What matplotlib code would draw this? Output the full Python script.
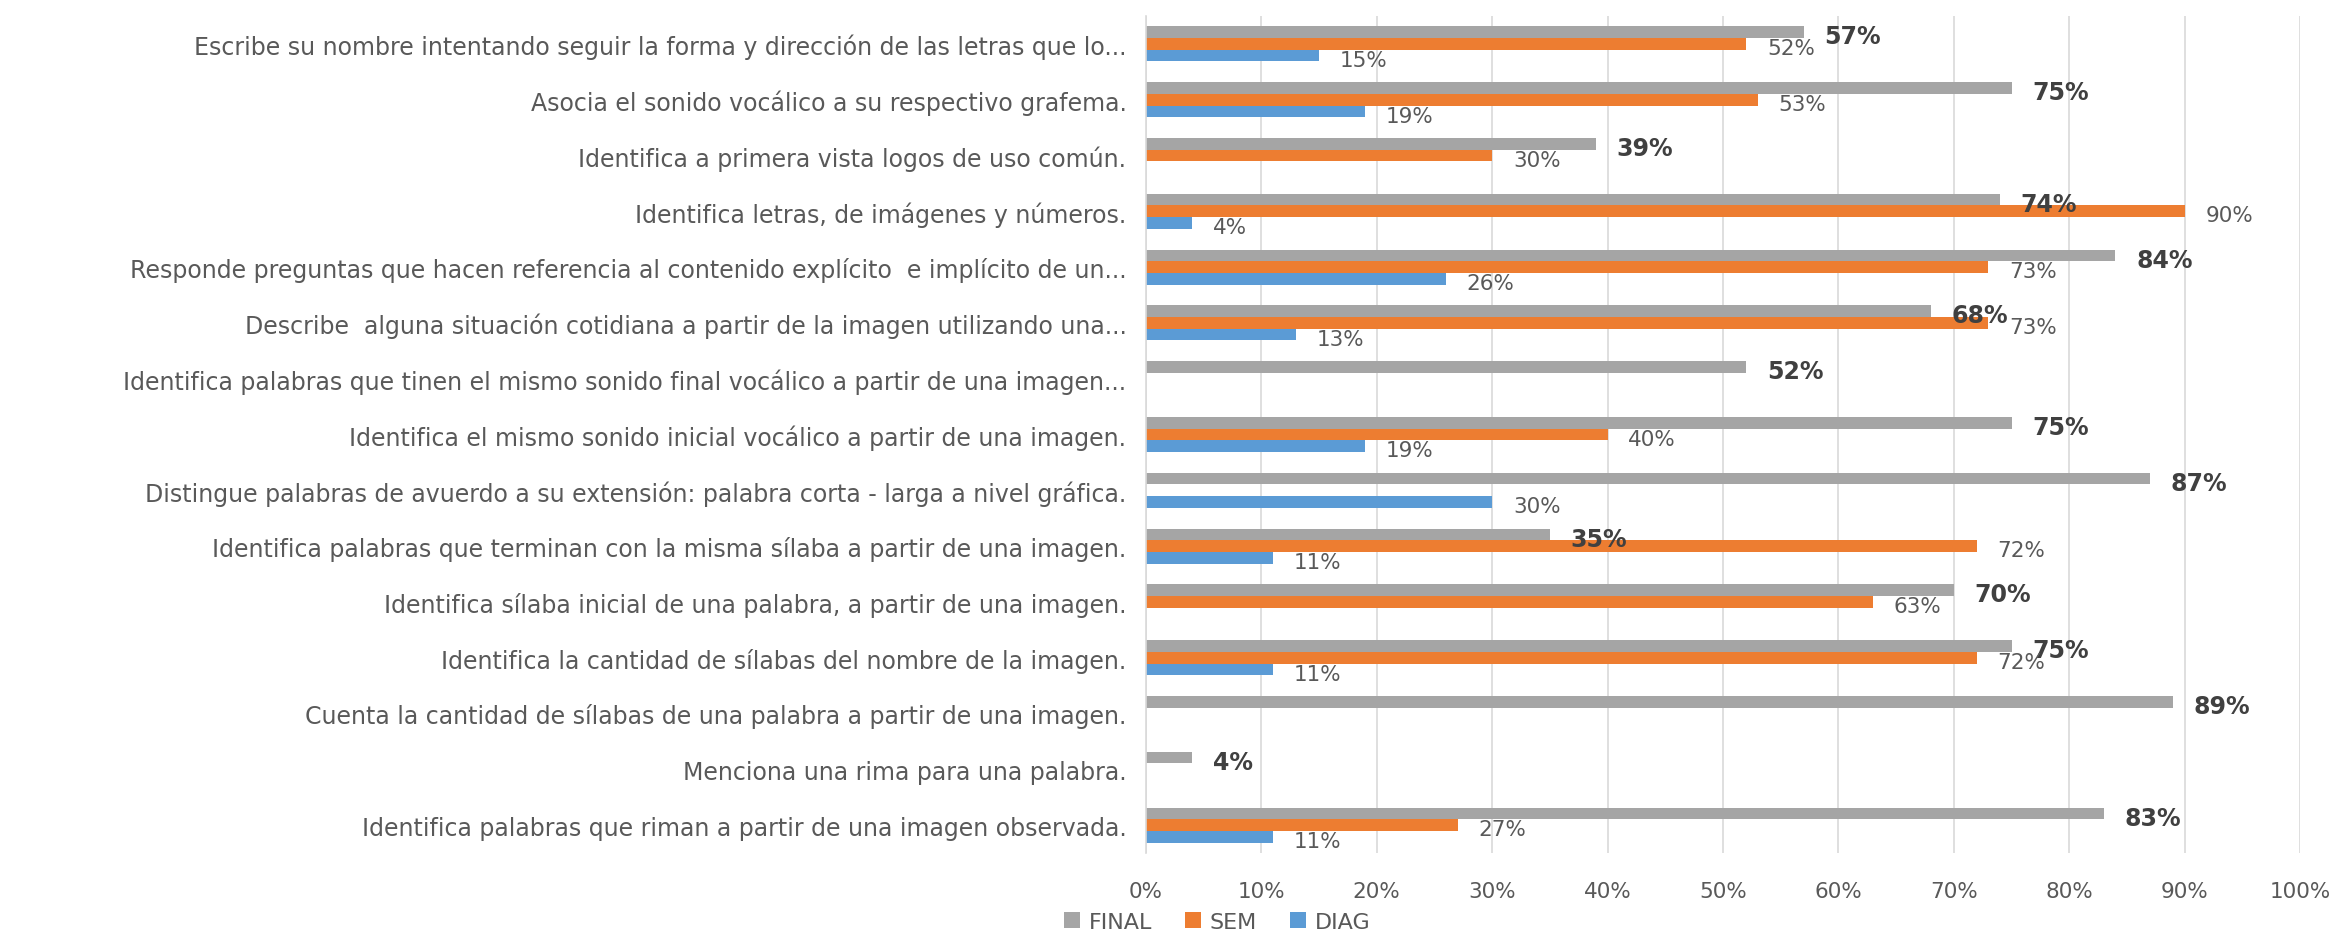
import numpy as np
from matplotlib import pyplot as plt

categories = [
    'Escribe su nombre intentando seguir la forma y dirección de las letras que lo...',
    'Asocia el sonido vocálico a su respectivo grafema.',
    'Identifica a primera vista logos de uso común.',
    'Identifica letras, de imágenes y números.',
    'Responde preguntas que hacen referencia al contenido explícito  e implícito de un...',
    'Describe  alguna situación cotidiana a partir de la imagen utilizando una...',
    'Identifica palabras que tinen el mismo sonido final vocálico a partir de una imagen...',
    'Identifica el mismo sonido inicial vocálico a partir de una imagen.',
    'Distingue palabras de avuerdo a su extensión: palabra corta - larga a nivel gráfica.',
    'Identifica palabras que terminan con la misma sílaba a partir de una imagen.',
    'Identifica sílaba inicial de una palabra, a partir de una imagen.',
    'Identifica la cantidad de sílabas del nombre de la imagen.',
    'Cuenta la cantidad de sílabas de una palabra a partir de una imagen.',
    'Menciona una rima para una palabra.',
    'Identifica palabras que riman a partir de una imagen observada.',
]
final_vals = [57, 75, 39, 74, 84, 68, 52, 75, 87, 35, 70, 75, 89, 4, 83]
sem_vals = [52, 53, 30, 90, 73, 73, None, 40, None, 72, 63, 72, None, None, 27]
diag_vals = [15, 19, None, 4, 26, 13, None, 19, 30, 11, None, 11, None, None, 11]
x_ticks = [0, 10, 20, 30, 40, 50, 60, 70, 80, 90, 100]

GRAY = '#A5A5A5'
ORANGE = '#ED7D31'
BLUE = '#5B9BD5'
TEXT = '#595959'


def to_frac(vals):
    return np.array([np.nan if v is None else v / 100 for v in vals], dtype=float)


fig = plt.figure(figsize=(23.41, 9.45), dpi=100)
ax = fig.add_axes([0.4895, 0.0963, 0.9825 - 0.4895, 0.982 - 0.0963])

y = np.arange(len(categories))
h = 0.21
series = [
    ('FINAL', to_frac(final_vals), GRAY, -h, True),
    ('SEM', to_frac(sem_vals), ORANGE, 0, False),
    ('DIAG', to_frac(diag_vals), BLUE, h, False),
]

for name, vals, color, off, bold in series:
    ax.barh(y + off, np.nan_to_num(vals), height=h, color=color, label=name, zorder=2)
    for yi, v in zip(y + off, vals):
        if np.isnan(v):
            continue
        ax.annotate(f'{v * 100:.0f}%', (v, yi), xytext=(15, -3), textcoords='offset points',
                    ha='left', va='center',
                    fontsize=17 if bold else 15.5,
                    fontweight='bold' if bold else 'normal',
                    color='#404040' if bold else TEXT, zorder=3)

ax.set_xlim(0, 1)
ax.set_ylim(len(categories) - 0.5, -0.5)
ax.set_xticks([t / 100 for t in x_ticks])
ax.set_xticklabels([f'{t}%' for t in x_ticks], fontsize=15.5, color=TEXT)
ax.set_yticks(y)
ax.set_yticklabels(categories, fontsize=17, color=TEXT)
ax.tick_params(axis='both', length=0, pad=14)
ax.tick_params(axis='x', pad=20)
ax.grid(axis='x', color='#D9D9D9', linewidth=1.2, zorder=0)
for side in ['top', 'right', 'bottom']:
    ax.spines[side].set_visible(False)
ax.spines['left'].set_color('#D9D9D9')
ax.spines['left'].set_linewidth(1.2)

fig.legend(loc='lower center', bbox_to_anchor=(0.52, -0.008), ncol=3, frameon=False,
           fontsize=16, labelcolor=TEXT, handlelength=0.7, handleheight=0.7,
           handletextpad=0.4, columnspacing=1.5)

plt.savefig('out.png')
plt.close()
